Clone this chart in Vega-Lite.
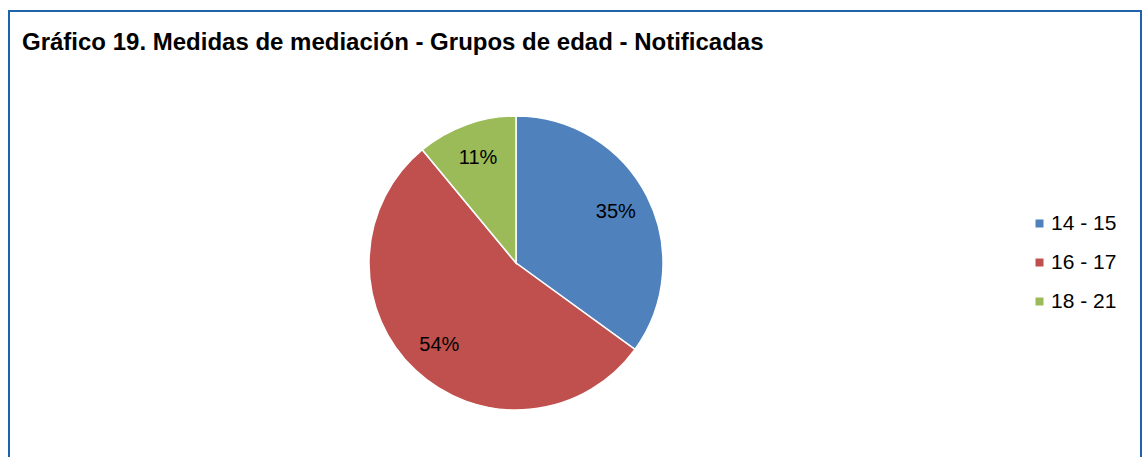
{
  "$schema": "https://vega.github.io/schema/vega-lite/v6.json",
  "autosize": "none",
  "width": 1132,
  "height": 449,
  "padding": {"left": 9, "top": 11, "right": 4, "bottom": -3},
  "background": "white",
  "view": {"stroke": "#1f64a8", "strokeWidth": 2, "fill": "white"},
  "config": {
    "view": {"stroke": "#1f64a8", "strokeWidth": 2},
    "font": "Liberation Sans"
  },
  "title": {
    "text": "Gráfico 19. Medidas de mediación - Grupos de edad - Notificadas",
    "anchor": "start",
    "frame": "group",
    "orient": "top",
    "baseline": "alphabetic",
    "offset": -63,
    "dx": 13,
    "font": "Liberation Sans",
    "fontSize": 24,
    "fontWeight": "bold",
    "color": "#000000"
  },
  "data": {
    "values": [
      {"grupo": "14 - 15", "pct": 0.35},
      {"grupo": "16 - 17", "pct": 0.54},
      {"grupo": "18 - 21", "pct": 0.11}
    ]
  },
  "encoding": {
    "theta": {"field": "pct", "type": "quantitative", "stack": true}
  },
  "layer": [
    {
      "mark": {"type": "arc", "outerRadius": 147, "x": 507, "y": 252, "stroke": "white", "strokeWidth": 1.5},
      "encoding": {
        "color": {
          "field": "grupo",
          "type": "nominal",
          "scale": {"domain": ["14 - 15", "16 - 17", "18 - 21"], "range": ["#4f81bd", "#c0504d", "#9bbb59"]},
          "legend": {
            "title": null,
            "orient": "none",
            "legendX": 1020,
            "legendY": 202,
            "symbolType": "square",
            "symbolSize": 64,
            "symbolStrokeWidth": 0,
            "labelFontSize": 21,
            "labelFont": "Liberation Sans",
            "labelColor": "#000000",
            "rowPadding": 17,
            "labelOffset": 1,
            "padding": 0
          }
        }
      }
    },
    {
      "mark": {"type": "text", "radius": 112, "x": 507, "y": 252, "fontSize": 20, "font": "Liberation Sans", "color": "#000000"},
      "encoding": {
        "detail": {"field": "grupo", "type": "nominal"},
        "text": {"field": "pct", "type": "quantitative", "format": ".0%"},
        "order": {"field": "grupo"}
      }
    }
  ]
}
